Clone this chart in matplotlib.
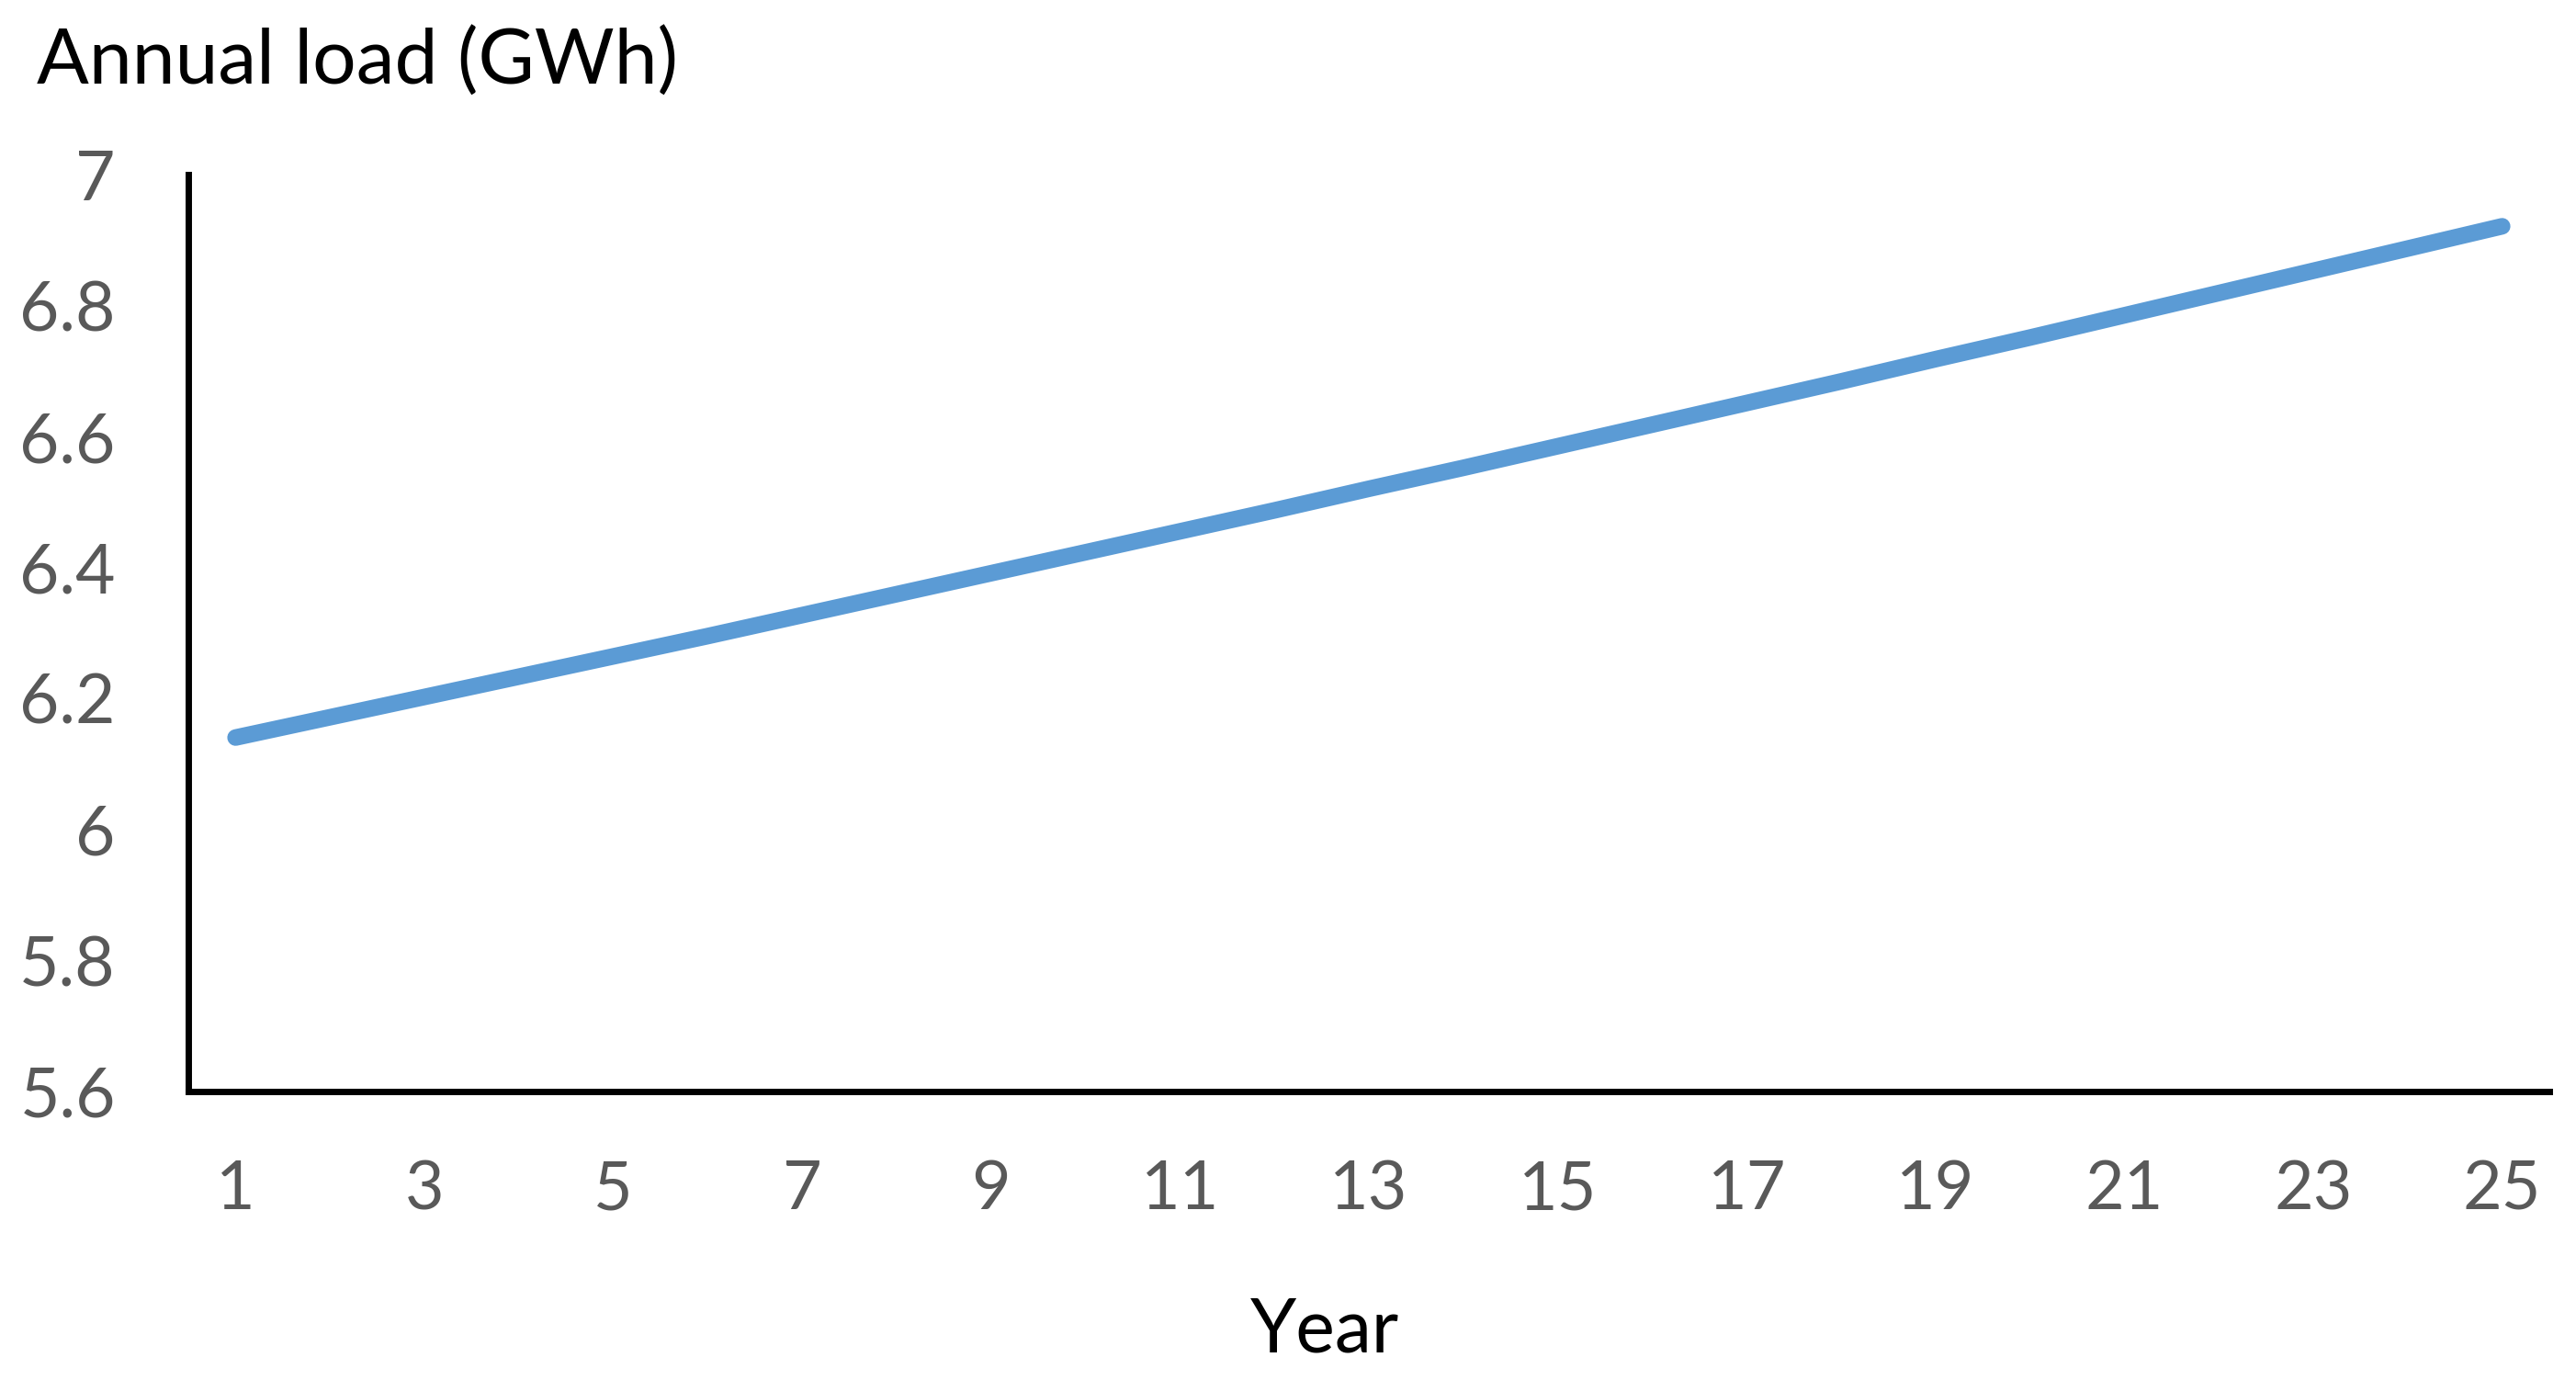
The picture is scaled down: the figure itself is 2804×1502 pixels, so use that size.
import matplotlib
matplotlib.use("Agg")
import matplotlib.pyplot as plt

years = list(range(1, 26))
annual_load = [6.140, 6.171, 6.202, 6.233, 6.264, 6.295, 6.327, 6.359, 6.391,
               6.423, 6.455, 6.487, 6.520, 6.552, 6.585, 6.618, 6.651, 6.684,
               6.718, 6.751, 6.785, 6.819, 6.853, 6.887, 6.921]
x_tick_years = list(range(1, 26, 2))
y_ticks = [5.6, 5.8, 6.0, 6.2, 6.4, 6.6, 6.8, 7.0]
y_tick_labels = ["5.6", "5.8", "6", "6.2", "6.4", "6.6", "6.8", "7"]

plt.rcParams['font.family'] = ['Lato', 'DejaVu Sans']

W, H = 2804, 1502
fig = plt.figure(figsize=(W / 100, H / 100), dpi=100)
ax = fig.add_axes([205 / W, 1 - 1187.5 / H, (2775 - 205) / W, (1187.5 - 190) / H])

ax.plot(years, annual_load, color='#5B9BD5', lw=13, solid_capstyle='round')

ax.set_xlim(0.5, 25.5)
ax.set_ylim(5.6, 7.0)
ax.set_xticks(x_tick_years)
ax.set_xticklabels([str(v) for v in x_tick_years])
ax.set_yticks(y_ticks)
ax.set_yticklabels(y_tick_labels)

for s in ['top', 'right']:
    ax.spines[s].set_visible(False)
for s in ['left', 'bottom']:
    ax.spines[s].set_linewidth(5)
    ax.spines[s].set_color('black')

ax.tick_params(axis='x', length=0, pad=54, labelsize=53, labelcolor='#595959')
ax.tick_params(axis='y', length=0, pad=57, labelsize=54, labelcolor='#595959')

fig.text(40 / W, 1 - 92 / H, "Annual load (GWh)", fontsize=60.5, color='black',
         ha='left', va='baseline')
fig.text(1442 / W, 1 - 1472 / H, "Year", fontsize=58, color='black',
         ha='center', va='baseline')

fig.savefig("out.png", dpi=100, facecolor='white')
